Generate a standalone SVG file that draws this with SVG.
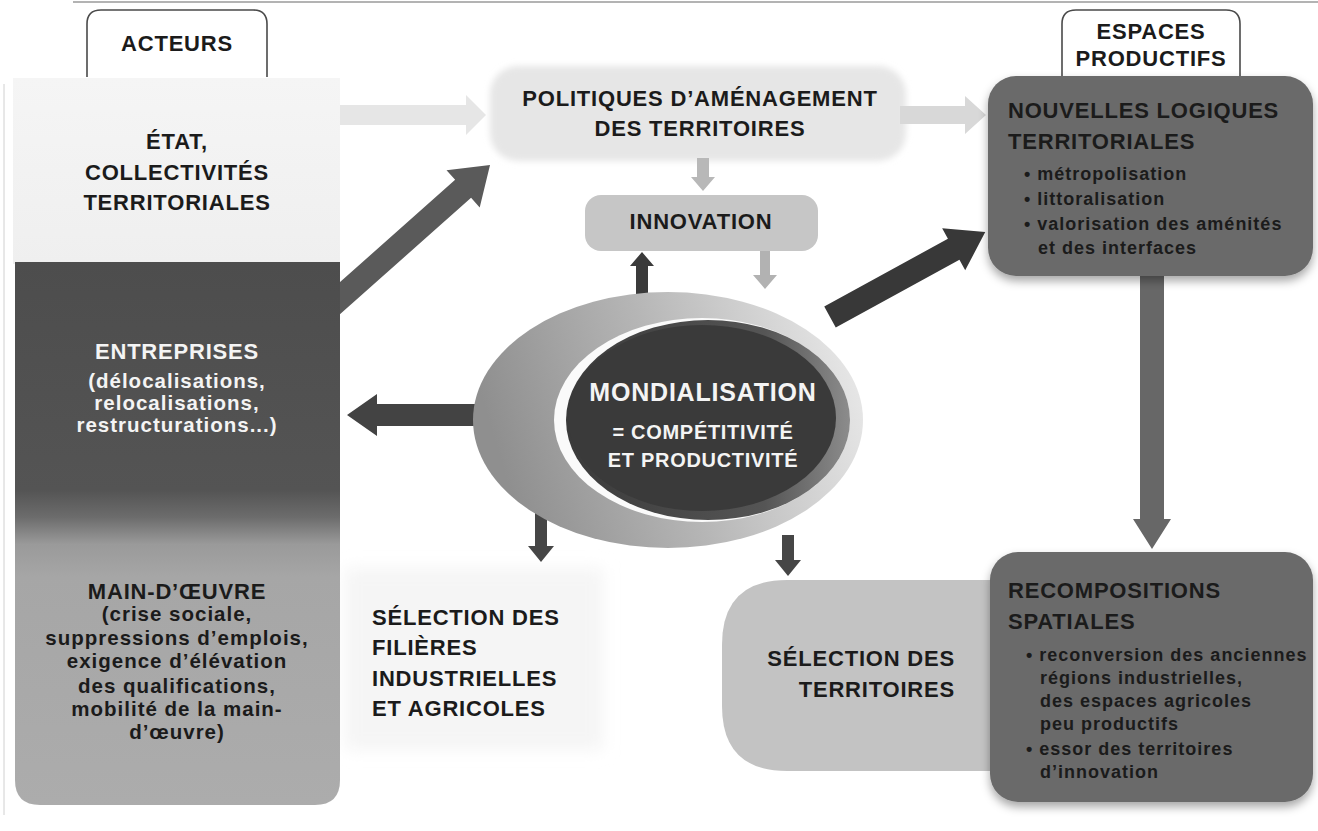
<svg xmlns="http://www.w3.org/2000/svg" width="1318" height="831" viewBox="0 0 1318 831">
  <defs>
    <style>
      text { font-family: "Liberation Sans", Arial, sans-serif; font-weight: bold; fill: #1b1b1b; }
      .h { font-size: 22px; letter-spacing: 0.8px; }
      .s { font-size: 20.5px; letter-spacing: 1px; }
      .b { font-size: 18px; letter-spacing: 1px; }
      .m { text-anchor: middle; }
      .e { text-anchor: end; }
      .w { fill: #f4f4f4; }
      .tab { fill: #ffffff; stroke: #4a4a4a; stroke-width: 1.6; }
      .dark { fill: #6b6b6b; }
    </style>
    <linearGradient id="actorsFill" gradientUnits="userSpaceOnUse" x1="0" y1="262" x2="0" y2="805">
      <stop offset="0" stop-color="#4d4d4d"/>
      <stop offset="0.42" stop-color="#545454"/>
      <stop offset="0.47" stop-color="#6c6c6c"/>
      <stop offset="0.52" stop-color="#9a9a9a"/>
      <stop offset="0.58" stop-color="#a6a6a6"/>
      <stop offset="1" stop-color="#acacac"/>
    </linearGradient>
    <linearGradient id="stateFill" x1="0" y1="0" x2="0" y2="1">
      <stop offset="0" stop-color="#f5f5f5"/>
      <stop offset="1" stop-color="#efefef"/>
    </linearGradient>
    <linearGradient id="globeFill" x1="0" y1="0.3" x2="1" y2="0.1">
      <stop offset="0" stop-color="#8f8f8f"/>
      <stop offset="0.45" stop-color="#b6b6b6"/>
      <stop offset="1" stop-color="#ececec"/>
    </linearGradient>
    <linearGradient id="rimFill" x1="0" y1="0" x2="1" y2="0">
      <stop offset="0" stop-color="#3a3a3a"/>
      <stop offset="0.7" stop-color="#555555"/>
      <stop offset="1" stop-color="#8c8c8c"/>
    </linearGradient>
    <filter id="soft" x="-10%" y="-20%" width="120%" height="140%">
      <feGaussianBlur stdDeviation="3"/>
    </filter>
    <filter id="haze" x="-10%" y="-10%" width="120%" height="120%">
      <feGaussianBlur stdDeviation="8"/>
    </filter>
    <filter id="shadow" x="-10%" y="-10%" width="120%" height="130%">
      <feDropShadow dx="0" dy="5" stdDeviation="5" flood-color="#000" flood-opacity="0.35"/>
    </filter>
  </defs>

  <rect width="1318" height="831" fill="#ffffff"/>
  <!-- frame rules -->
  <line x1="73" y1="2" x2="1318" y2="2" stroke="#9a9a9a" stroke-width="1.5"/>
  <line x1="4" y1="84" x2="4" y2="815" stroke="#d0d0d0" stroke-width="1"/>

  <!-- soft background areas -->
  <rect x="490" y="66" width="416" height="95" rx="28" fill="#e6e6e6" filter="url(#soft)"/>
  <rect x="345" y="568" width="258" height="182" fill="#f5f5f5" filter="url(#haze)"/>

  <!-- connectors -->
  <g id="connectors">
    <path d="M335,105 H466 V95 L486,115 L466,135 V125 H335 Z" fill="#e6e6e6"/>
    <path d="M900,106 H965 V96 L986,115 L965,134 V124 H900 Z" fill="#d8d8d8"/>
    <path d="M0,-12 H178 V-25 L214,0 L178,25 V12 H0 Z" fill="#5a5a5a" transform="translate(330,307) rotate(-41.6)"/>
    <path d="M0,-12 H141 V-24 L177,0 L141,24 V12 H0 Z" fill="#383838" transform="translate(830,317) rotate(-28.7)"/>
    <path d="M480,404 H377 V394 L347,415 L377,436 V426 H480 Z" fill="#434343"/>
    <path d="M697,158 V177 H691 L703,191 L715,177 H709 V158 Z" fill="#b8b8b8"/>
    <path d="M636,298 V266 H630 L642,252 L654,266 H648 V298 Z" fill="#3a3a3a"/>
    <path d="M760,248 V275 H753 L765,289 L777,275 H770 V248 Z" fill="#b2b2b2"/>
    <path d="M535,505 V546 H528 L541,562 L554,546 H547 V505 Z" fill="#464646"/>
    <path d="M782,535 V560 H775 L788,576 L801,560 H794 V535 Z" fill="#464646"/>
    <path d="M1140,270 V519 H1133 L1152,549 L1171,519 H1164 V270 Z" fill="#676767"/>
  </g>

  <!-- actors column -->
  <g id="acteurs">
    <path class="tab" d="M87,77 V24 Q87,10 101,10 H253 Q267,10 267,24 V77"/>
    <text class="h m" x="177" y="51">ACTEURS</text>
  </g>
  <g id="etat">
    <rect x="13" y="78" width="327" height="186" fill="url(#stateFill)"/>
    <text class="h m" x="177" y="149">ÉTAT,</text>
    <text class="h m" x="177" y="180">COLLECTIVITÉS</text>
    <text class="h m" x="177" y="210">TERRITORIALES</text>
  </g>
  <g id="entreprises">
    <path d="M15,262 H340 V780 Q340,805 315,805 H40 Q15,805 15,780 Z" fill="url(#actorsFill)"/>
    <text class="h m w" x="177" y="359">ENTREPRISES</text>
    <text class="s m w" x="177" y="388">(délocalisations,</text>
    <text class="s m w" x="177" y="410">relocalisations,</text>
    <text class="s m w" x="177" y="432">restructurations...)</text>
  </g>
  <g id="main-oeuvre">
    <text class="h m" x="177" y="599">MAIN-D’ŒUVRE</text>
    <text class="s m" x="177" y="621">(crise sociale,</text>
    <text class="s m" x="177" y="645">suppressions d’emplois,</text>
    <text class="s m" x="177" y="668">exigence d’élévation</text>
    <text class="s m" x="177" y="693">des qualifications,</text>
    <text class="s m" x="177" y="716">mobilité de la main-</text>
    <text class="s m" x="177" y="739">d’œuvre)</text>
  </g>

  <!-- centre column -->
  <g id="politiques">
    <text class="h m" x="700" y="106">POLITIQUES D’AMÉNAGEMENT</text>
    <text class="h m" x="700" y="136">DES TERRITOIRES</text>
  </g>
  <g id="innovation">
    <rect x="585" y="195" width="233" height="56" rx="16" fill="#c6c6c6"/>
    <text class="h m" x="701" y="229">INNOVATION</text>
  </g>
  <g id="mondialisation">
    <ellipse cx="668" cy="420" rx="195" ry="128" fill="url(#globeFill)"/>
    <ellipse cx="702" cy="420" rx="148" ry="102" fill="#fafafa"/>
    <ellipse cx="708" cy="420" rx="142" ry="100" fill="url(#rimFill)"/>
    <ellipse cx="702" cy="418" rx="134" ry="93" fill="#3a3a3a"/>
    <text class="w m" x="703" y="401" style="font-size:25px;letter-spacing:0.8px">MONDIALISATION</text>
    <text class="w m" x="703" y="439" style="font-size:20px;letter-spacing:0.7px">= COMPÉTITIVITÉ</text>
    <text class="w m" x="703" y="467" style="font-size:20px;letter-spacing:0.7px">ET PRODUCTIVITÉ</text>
  </g>
  <g id="selection-filieres">
    <text class="h" x="372" y="625">SÉLECTION DES</text>
    <text class="h" x="372" y="655">FILIÈRES</text>
    <text class="h" x="372" y="686">INDUSTRIELLES</text>
    <text class="h" x="372" y="716">ET AGRICOLES</text>
  </g>

  <!-- productive spaces column -->
  <g id="espaces-productifs">
    <path class="tab" d="M1062,80 V24 Q1062,10 1076,10 H1226 Q1240,10 1240,24 V80"/>
    <text class="h m" x="1151" y="39">ESPACES</text>
    <text class="h m" x="1151" y="66">PRODUCTIFS</text>
  </g>
  <g id="nouvelles-logiques">
    <rect class="dark" x="988" y="76" width="325" height="200" rx="28" filter="url(#shadow)"/>
    <text class="h" x="1008" y="118">NOUVELLES LOGIQUES</text>
    <text class="h" x="1008" y="149">TERRITORIALES</text>
    <text class="b" x="1024" y="180">• métropolisation</text>
    <text class="b" x="1024" y="205">• littoralisation</text>
    <text class="b" x="1024" y="230">• valorisation des aménités</text>
    <text class="b" x="1038" y="254">et des interfaces</text>
  </g>
  <g id="selection-territoires">
    <path d="M1000,580 V771 H787 Q722,771 722,706 V645 Q722,580 787,580 Z" fill="#c3c3c3"/>
    <text class="h e" x="955" y="666">SÉLECTION DES</text>
    <text class="h e" x="955" y="697">TERRITOIRES</text>
  </g>
  <g id="recompositions">
    <rect class="dark" x="990" y="552" width="323" height="250" rx="28" filter="url(#shadow)"/>
    <text class="h" x="1008" y="598">RECOMPOSITIONS</text>
    <text class="h" x="1008" y="629">SPATIALES</text>
    <text class="b" x="1026" y="661">• reconversion des anciennes</text>
    <text class="b" x="1040" y="684">régions industrielles,</text>
    <text class="b" x="1040" y="707">des espaces agricoles</text>
    <text class="b" x="1040" y="730">peu productifs</text>
    <text class="b" x="1026" y="755">• essor des territoires</text>
    <text class="b" x="1040" y="778">d’innovation</text>
  </g>
</svg>
